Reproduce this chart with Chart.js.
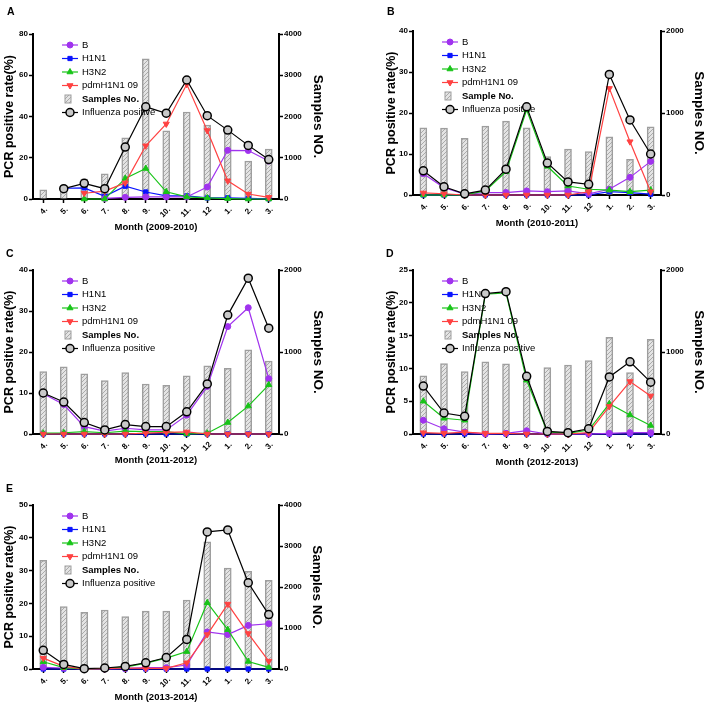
<!DOCTYPE html>
<html>
<head>
<meta charset="utf-8">
<script src="https://cdn.jsdelivr.net/npm/chart.js@4.4.0/dist/chart.umd.min.js"></script>
<style>
  html, body { margin: 0; padding: 0; background: #fff; }
  #wrap { position: relative; width: 708px; height: 705px; overflow: hidden; }
  canvas { position: absolute; }
  .tag { position: absolute; font: bold 10.5px "Liberation Sans", Arial, sans-serif; line-height: 11px; color: #000; }
</style>
</head>
<body>
<div id="wrap">
  <canvas id="cA" width="354" height="236" style="left:0;top:0"></canvas>
  <canvas id="cB" width="354" height="236" style="left:354px;top:0"></canvas>
  <canvas id="cC" width="354" height="236" style="left:0;top:236px"></canvas>
  <canvas id="cD" width="354" height="236" style="left:354px;top:236px"></canvas>
  <canvas id="cE" width="354" height="233" style="left:0;top:472px"></canvas>
  <div class="tag" style="left:7px;top:6px">A</div>
  <div class="tag" style="left:387px;top:6px">B</div>
  <div class="tag" style="left:6px;top:248px">C</div>
  <div class="tag" style="left:386px;top:248px">D</div>
  <div class="tag" style="left:6px;top:483px">E</div>
</div>
<script>
const months = ['4.', '5.', '6.', '7.', '8.', '9.', '10.', '11.', '12', '1.', '2.', '3.'];

// A: 2009-2010
const samplesA = [220, 270, 480, 610, 1480, 3400, 1650, 2110, 1790, 1700, 920, 1210];
const fluA     = [null, 5, 7.6, 5, 25.2, 44.7, 41.6, 57.7, 40.4, 33.4, 26, 19.1];
const bA       = [null, null, null, 0.3, 0.8, 1, 1, 1, 5.8, 23.6, 23.5, 18.4];
const h1n1A    = [null, 5.2, 5.4, 1.3, 6.2, 3.4, 1.5, 1.5, 0.5, 0.6, 0.3, 0.1];
const h3n2A    = [null, null, 0, 0, 10, 14.8, 3.5, 1, 0.5, 0.2, 0, 0];
const pdmA     = [null, null, 2.8, 3.8, 7.8, 25.8, 36.4, 55.6, 33.2, 8.8, 2.4, 0.8];

// B: 2010-2011
const samplesB = [820, 815, 690, 840, 900, 820, 470, 560, 530, 710, 435, 830];
const fluB     = [5.9, 2, 0.3, 1.2, 6.3, 21.5, 7.8, 3.2, 2.6, 29.4, 18.3, 10];
const bB       = [5.2, 1.8, 0.2, 0.6, 0.6, 1, 0.8, 1, 0.3, 1.4, 4.3, 8.2];
const h1n1B    = [0, 0, 0, 0, 0, 0, 0, 0, 0, 0.8, 0.6, 0.2];
const h3n2B    = [0, 0, 0, 1, 5.7, 20.8, 7, 2.2, 1.4, 1.2, 0.8, 1.2];
const pdmB     = [0.5, 0.3, 0, 0, 0, 0, 0, 0, 0.8, 26, 13, 0.8];

// C: 2011-2012
const samplesC = [760, 820, 735, 650, 750, 610, 595, 710, 830, 800, 1025, 890];
const fluC     = [10, 7.8, 2.8, 1, 2.3, 1.8, 1.8, 5.4, 12.2, 29, 38, 25.8];
const bC       = [9.8, 7.2, 1.8, 0.7, 1.4, 1, 1, 4.6, 11.6, 26.2, 30.8, 13.5];
const h1n1C    = [0, 0, 0, 0, 0, 0, 0, 0, 0, 0, 0, 0];
const h3n2C    = [0.2, 0.3, 0.6, 0.3, 0.7, 0.6, 0.6, 0, 0.2, 2.8, 6.8, 12];
const pdmC     = [0, 0, 0, 0, 0, 0.2, 0.4, 0.5, 0, 0, 0, 0];

// D: 2012-2013
const samplesD = [710, 860, 760, 880, 855, 745, 810, 840, 895, 1180, 750, 1155];
const fluD     = [7.3, 3.2, 2.7, 21.4, 21.7, 8.8, 0.4, 0.2, 0.8, 8.7, 11, 7.9];
const bD       = [2.1, 0.8, 0.3, 0, 0.1, 0.5, 0, 0, 0, 0.1, 0.2, 0.2];
const h1n1D    = [0, 0, 0, 0, 0, 0, 0, 0, 0, 0, 0, 0];
const h3n2D    = [5, 2.4, 2.1, 21.3, 21.5, 8.2, 0.3, 0.1, 0.6, 4.6, 2.9, 1.3];
const pdmD     = [0.2, 0.1, 0.3, 0.1, 0.1, 0, 0, 0, 0.2, 4.2, 8, 5.8];

// E: 2013-2014
const samplesE = [2650, 1520, 1385, 1440, 1280, 1410, 1410, 1680, 3100, 2460, 2385, 2160];
const fluE     = [5.7, 1.4, 0.1, 0.3, 0.8, 1.9, 3.5, 9, 41.8, 42.4, 26.3, 16.6];
const bE       = [0.5, 0.3, 0, 0, 0.2, 0.4, 0.4, 1.2, 11.3, 10.5, 13.3, 13.8];
const h1n1E    = [0, 0, 0, 0, 0, 0, 0, 0, 0, 0, 0, 0];
const h3n2E    = [2.2, 0.4, 0, 0.2, 0.6, 1.8, 3.3, 5.3, 20.2, 12, 2.3, 0.5];
const pdmE     = [3.3, 0.8, 0, 0.1, 0.3, 0.2, 0.2, 1.9, 10.5, 19.8, 10.8, 2.4];

const FONT = '"Liberation Sans", Arial, sans-serif';
Chart.defaults.font.family = FONT;
Chart.defaults.color = '#000';

function hatch() {
  const c = document.createElement('canvas');
  c.width = 4; c.height = 4;
  const g = c.getContext('2d');
  g.fillStyle = '#e4e4e4';
  g.fillRect(0, 0, 4, 4);
  g.strokeStyle = '#aaaaaa';
  g.lineWidth = 1;
  g.beginPath(); g.moveTo(0, 4); g.lineTo(4, 0); g.stroke();
  return g.createPattern(c, 'repeat');
}

// legend drawn inside the plot, after the bars and before the lines
const innerLegend = {
  id: 'innerLegend',
  afterDatasetDraw(chart, args) {
    if (args.meta.type !== 'bar') return;
    const { ctx, chartArea } = chart;
    const x0 = chartArea.left + 29, y0 = chartArea.top + 11, gap = 13.5;
    chart.data.datasets.forEach((ds, i) => {
      const y = y0 + i * gap;
      ctx.save();
      if (ds.type === 'bar') {
        ctx.fillStyle = ds.backgroundColor;
        ctx.fillRect(x0 + 3, y - 4, 6, 8);
        ctx.strokeStyle = ds.borderColor;
        ctx.lineWidth = 1;
        ctx.strokeRect(x0 + 3, y - 4, 6, 8);
      } else {
        ctx.strokeStyle = ds.borderColor;
        ctx.lineWidth = ds.borderWidth;
        ctx.beginPath(); ctx.moveTo(x0, y); ctx.lineTo(x0 + 16, y); ctx.stroke();
        ctx.fillStyle = ds.pointBackgroundColor;
        ctx.strokeStyle = ds.pointBorderColor;
        ctx.lineWidth = ds.pointBorderWidth;
        Chart.helpers.drawPoint(ctx, {
          pointStyle: ds.pointStyle, radius: ds.pointRadius,
          rotation: ds.pointRotation || 0, borderWidth: ds.pointBorderWidth
        }, x0 + 8, y);
      }
      ctx.fillStyle = '#000';
      ctx.font = (ds.type === 'bar' ? 'bold ' : '') + '9.5px ' + FONT;
      ctx.textBaseline = 'middle';
      ctx.textAlign = 'left';
      ctx.fillText(ds.label, x0 + 20, y);
      ctx.restore();
    });
  }
};

function line(label, data, color, style, radius, order, extra) {
  return Object.assign({
    type: 'line', label, data, yAxisID: 'y', order,
    borderColor: color, borderWidth: 1.2,
    pointStyle: style, pointRadius: radius, pointHoverRadius: radius,
    pointBackgroundColor: color, pointBorderColor: color, pointBorderWidth: 1,
    tension: 0, clip: false, fill: false
  }, extra || {});
}

function panel(id, p) {
  const leftOff = 12.5 * 1.2 / 2 + 2;
  const rightOff = 13.5 * 1.2 / 2 + 1;
  const bottomOff = 9.5 * 1.2 / 2;
  const padLeft = Math.max(0, p.leftTitleX - leftOff);
  const scaleRight = Math.min(p.W, p.rightTitleX + rightOff);
  const scaleBottom = Math.min(p.H, p.xTitleY + bottomOff);
  const tickFont = { size: 8, weight: 'bold' };
  const axisGrid = { drawOnChartArea: false, drawTicks: true, tickLength: 4, tickWidth: 1.5, tickColor: '#000', offset: false };
  const axisBorder = { display: true, color: '#000', width: 2 };

  new Chart(document.getElementById(id), {
    type: 'bar',
    data: {
      labels: months,
      datasets: [
        line('B', p.b, '#a033ee', 'circle', 3, 3),
        line('H1N1', p.h1n1, '#0a14ff', 'rect', 3, 4),
        line('H3N2', p.h3n2, '#18c418', 'triangle', 3.5, 2),
        line('pdmH1N1 09', p.pdm, '#ff4242', 'triangle', 3.5, 1, { pointRotation: 180 }),
        {
          type: 'bar', label: p.sampleLabel, data: p.samples, yAxisID: 'y1', order: 10,
          backgroundColor: hatch(), borderColor: '#9e9e9e', borderWidth: 1.5,
          barThickness: 7, borderSkipped: 'bottom'
        },
        line('Influenza positive', p.flu, '#000', 'circle', 4, 0,
          { pointBackgroundColor: '#c9c9c9', pointBorderWidth: 1.5 })
      ]
    },
    options: {
      responsive: false,
      animation: false,
      events: [],
      layout: { padding: { left: padLeft, right: p.W - scaleRight, top: p.T, bottom: p.H - scaleBottom } },
      plugins: { legend: { display: false }, tooltip: { enabled: false } },
      scales: {
        x: {
          offset: true,
          grid: axisGrid,
          border: axisBorder,
          ticks: { font: tickFont, color: '#000', minRotation: 45, maxRotation: 45, autoSkip: false, padding: 2, labelOffset: 3 },
          title: { display: true, text: p.xTitle, color: '#000', font: { size: 9.5, weight: 'bold' }, padding: { top: 0, bottom: 0 } },
          afterFit: s => { s.height = scaleBottom - p.Bt; }
        },
        y: {
          position: 'left', min: 0, max: p.yMax,
          grid: axisGrid,
          border: axisBorder,
          ticks: { stepSize: p.yStep, font: tickFont, color: '#000', padding: 1 },
          title: { display: true, text: 'PCR positive rate(%)', color: '#000', font: { size: 12.5, weight: 'bold' }, padding: { top: 2, bottom: 0 } },
          afterFit: s => { s.width = p.L - padLeft; }
        },
        y1: {
          position: 'right', min: 0, max: p.rMax,
          grid: axisGrid,
          border: axisBorder,
          ticks: { stepSize: 1000, font: tickFont, color: '#000', padding: 1, callback: v => String(v) },
          title: { display: true, text: 'Samples NO.', color: '#000', font: { size: 13.5, weight: 'bold' }, padding: { top: 1, bottom: 0 } },
          afterFit: s => { s.width = scaleRight - p.R; }
        }
      }
    },
    plugins: [innerLegend]
  });
}

panel('cA', { W: 354, H: 236, L: 33, R: 279, T: 34, Bt: 199, xTitleY: 227, leftTitleX: 10, rightTitleX: 318,
  yMax: 80, yStep: 20, rMax: 4000, xTitle: 'Month (2009-2010)', sampleLabel: 'Samples No.',
  samples: samplesA, flu: fluA, b: bA, h1n1: h1n1A, h3n2: h3n2A, pdm: pdmA });
panel('cB', { W: 354, H: 236, L: 59, R: 307, T: 31, Bt: 195, xTitleY: 223, leftTitleX: 38, rightTitleX: 345,
  yMax: 40, yStep: 10, rMax: 2000, xTitle: 'Month (2010-2011)', sampleLabel: 'Sample No.',
  samples: samplesB, flu: fluB, b: bB, h1n1: h1n1B, h3n2: h3n2B, pdm: pdmB });
panel('cC', { W: 354, H: 236, L: 33, R: 279, T: 34, Bt: 198, xTitleY: 224, leftTitleX: 10, rightTitleX: 318,
  yMax: 40, yStep: 10, rMax: 2000, xTitle: 'Month (2011-2012)', sampleLabel: 'Samples No.',
  samples: samplesC, flu: fluC, b: bC, h1n1: h1n1C, h3n2: h3n2C, pdm: pdmC });
panel('cD', { W: 354, H: 236, L: 59, R: 307, T: 34, Bt: 198, xTitleY: 226, leftTitleX: 38, rightTitleX: 346,
  yMax: 25, yStep: 5, rMax: 2000, xTitle: 'Month (2012-2013)', sampleLabel: 'Samples No.',
  samples: samplesD, flu: fluD, b: bD, h1n1: h1n1D, h3n2: h3n2D, pdm: pdmD });
panel('cE', { W: 354, H: 233, L: 33, R: 279, T: 33, Bt: 197, xTitleY: 225, leftTitleX: 10, rightTitleX: 317,
  yMax: 50, yStep: 10, rMax: 4000, xTitle: 'Month (2013-2014)', sampleLabel: 'Samples No.',
  samples: samplesE, flu: fluE, b: bE, h1n1: h1n1E, h3n2: h3n2E, pdm: pdmE });
</script>
</body>
</html>
